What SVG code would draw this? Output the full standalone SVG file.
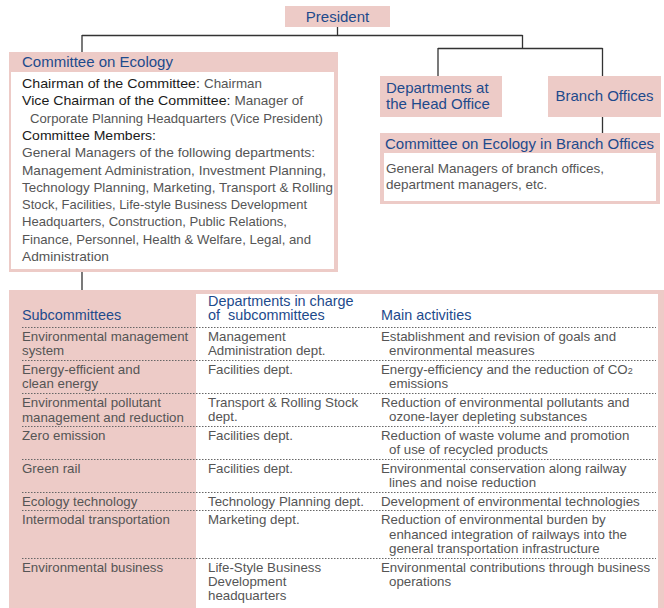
<svg xmlns="http://www.w3.org/2000/svg" width="664" height="608" viewBox="0 0 664 608">
<style>
.pink{fill:#edcbc7}
.white{fill:#ffffff}
.title{font-family:"Liberation Sans",Arial,sans-serif;font-size:15px;fill:#1d4a8c}
.hdr{font-family:"Liberation Sans",Arial,sans-serif;font-size:14.4px;fill:#1d4a8c}
.lab{font-family:"Liberation Sans",Arial,sans-serif;font-size:13.5px;fill:#1a1a1a}
.body{font-family:"Liberation Sans",Arial,sans-serif;font-size:13.5px;fill:#555}
.cell{font-family:"Liberation Sans",Arial,sans-serif;font-size:13.3px;fill:#555}
.conn{stroke:#333;stroke-width:1.3;fill:none}
.dash{stroke:#666;stroke-width:1;stroke-dasharray:1.5 1.5;fill:none}
</style>
<rect width="664" height="608" fill="#ffffff"/>
<g id="connectors">
<path class="conn" d="M337.5 27V35.5M82 35.5H522.5M82 35V52M522.5 35V48.5M438 48.5H602.5M438 48V76M602.5 48V76M602.5 117V133M82 272V290"/>
</g>
<g id="president">
<rect class="pink" x="285" y="6" width="105" height="21"/>
<text class="title" x="337.5" y="22" text-anchor="middle">President</text>
</g>
<g id="committee-on-ecology">
<rect class="pink" x="9" y="52" width="329" height="220"/>
<rect class="white" x="11" y="72" width="323" height="197"/>
<text class="title" x="22" y="67">Committee on Ecology</text>
<text class="lab" x="22" y="88" textLength="178" lengthAdjust="spacingAndGlyphs">Chairman of the Committee:</text>
<text class="body" x="204" y="88" textLength="58" lengthAdjust="spacingAndGlyphs">Chairman</text>
<text class="lab" x="22" y="105.3" textLength="208.5" lengthAdjust="spacingAndGlyphs">Vice Chairman of the Committee:</text>
<text class="body" x="234.5" y="105.3" textLength="68.5" lengthAdjust="spacingAndGlyphs">Manager of</text>
<text class="body" x="30" y="122.6" textLength="293" lengthAdjust="spacingAndGlyphs">Corporate Planning Headquarters (Vice President)</text>
<text class="lab" x="22" y="139.9" textLength="134" lengthAdjust="spacingAndGlyphs">Committee Members:</text>
<text class="body" x="22" y="157.2" textLength="293" lengthAdjust="spacingAndGlyphs">General Managers of the following departments:</text>
<text class="body" x="22" y="174.5" textLength="304" lengthAdjust="spacingAndGlyphs">Management Administration, Investment Planning,</text>
<text class="body" x="22" y="191.8" textLength="311" lengthAdjust="spacingAndGlyphs">Technology Planning, Marketing, Transport &amp; Rolling</text>
<text class="body" x="22" y="209.1" textLength="285" lengthAdjust="spacingAndGlyphs">Stock, Facilities, Life-style Business Development</text>
<text class="body" x="22" y="226.4" textLength="265" lengthAdjust="spacingAndGlyphs">Headquarters, Construction, Public Relations,</text>
<text class="body" x="22" y="243.7" textLength="289" lengthAdjust="spacingAndGlyphs">Finance, Personnel, Health &amp; Welfare, Legal, and</text>
<text class="body" x="22" y="261" textLength="87" lengthAdjust="spacingAndGlyphs">Administration</text>
</g>
<g id="departments-head-office">
<rect class="pink" x="380" y="76" width="122" height="41"/>
<text class="title" x="386" y="93">Departments at</text>
<text class="title" x="386" y="109">the Head Office</text>
</g>
<g id="branch-offices">
<rect class="pink" x="548" y="76" width="113" height="41"/>
<text class="title" x="555.5" y="101">Branch Offices</text>
</g>
<g id="committee-branch">
<rect class="pink" x="380" y="133" width="280" height="71"/>
<rect class="white" x="384" y="153" width="272" height="48"/>
<text class="title" x="385" y="149">Committee on Ecology in Branch Offices</text>
<text class="body" x="386" y="173">General Managers of branch offices,</text>
<text class="body" x="386" y="189">department managers, etc.</text>
</g>
<g id="subcommittee-table">
<rect class="pink" x="9" y="290" width="655" height="318"/>
<rect class="white" x="196" y="294" width="462" height="314"/>
<text class="hdr" x="22" y="320">Subcommittees</text>
<text class="hdr" x="208" y="305.5">Departments in charge</text>
<text class="hdr" x="208" y="320" xml:space="preserve">of  subcommittees</text>
<text class="hdr" x="381" y="320">Main activities</text>
<path class="dash" d="M22 327.5H656M22 360.5H656M22 393.5H656M22 426.5H656M22 459.5H656M22 492.5H656M22 510.5H656M22 558.5H656"/>
<g class="cell">
<text x="22" y="341">Environmental management</text>
<text x="22" y="355">system</text>
<text x="22" y="374">Energy-efficient and</text>
<text x="22" y="388">clean energy</text>
<text x="22" y="407">Environmental pollutant</text>
<text x="22" y="422">management and reduction</text>
<text x="22" y="440">Zero emission</text>
<text x="22" y="473">Green rail</text>
<text x="22" y="506">Ecology technology</text>
<text x="22" y="524">Intermodal transportation</text>
<text x="22" y="572">Environmental business</text>
<text x="208" y="341">Management</text>
<text x="208" y="355">Administration dept.</text>
<text x="208" y="374">Facilities dept.</text>
<text x="208" y="407">Transport &amp; Rolling Stock</text>
<text x="208" y="421">dept.</text>
<text x="208" y="440">Facilities dept.</text>
<text x="208" y="473">Facilities dept.</text>
<text x="208" y="506">Technology Planning dept.</text>
<text x="208" y="524">Marketing dept.</text>
<text x="208" y="572">Life-Style Business</text>
<text x="208" y="586">Development</text>
<text x="208" y="600">headquarters</text>
<text x="381" y="341">Establishment and revision of goals and</text>
<text x="389" y="355">environmental measures</text>
<text x="381" y="374">Energy-efficiency and the reduction of CO<tspan font-size="9">2</tspan></text>
<text x="389" y="388">emissions</text>
<text x="381" y="407">Reduction of environmental pollutants and</text>
<text x="389" y="421">ozone-layer depleting substances</text>
<text x="381" y="440">Reduction of waste volume and promotion</text>
<text x="389" y="454">of use of recycled products</text>
<text x="381" y="473">Environmental conservation along railway</text>
<text x="389" y="487">lines and noise reduction</text>
<text x="381" y="506">Development of environmental technologies</text>
<text x="381" y="524">Reduction of environmental burden by</text>
<text x="389" y="539">enhanced integration of railways into the</text>
<text x="389" y="553">general transportation infrastructure</text>
<text x="381" y="572">Environmental contributions through business</text>
<text x="389" y="586">operations</text>
</g>
</g>
</svg>
